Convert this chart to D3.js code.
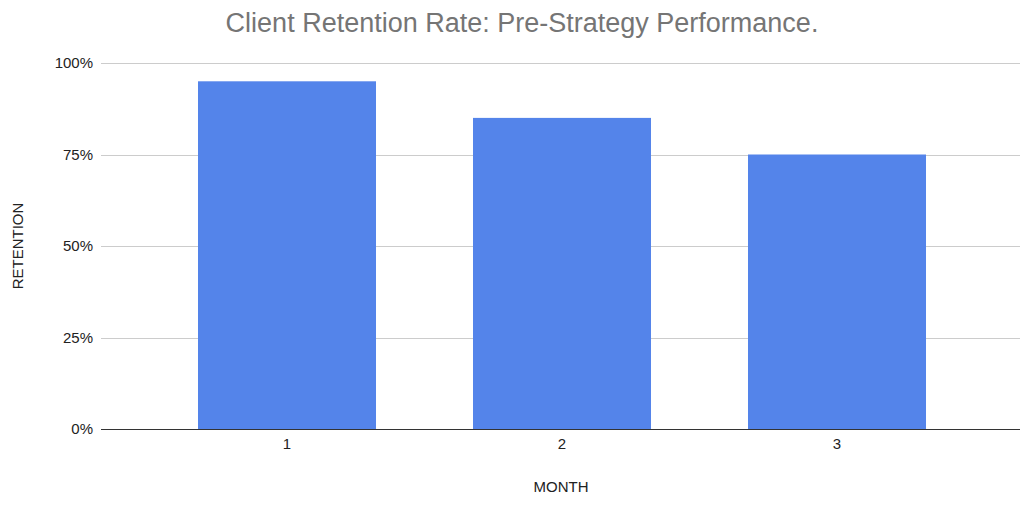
<!DOCTYPE html>
<html>
<head>
<meta charset="utf-8">
<script src="https://cdn.jsdelivr.net/npm/d3@7"></script>
<style>
  html, body { margin: 0; padding: 0; background: #fff; }
  svg { display: block; font-family: "Liberation Sans", Arial, sans-serif; }
</style>
</head>
<body>
<svg id="chart" width="1024" height="508"></svg>
<script>
const months = ["1", "2", "3"];
const retention = [0.95, 0.85, 0.75];
const yTicks = [0, 0.25, 0.5, 0.75, 1];
const yTickLabels = ["0%", "25%", "50%", "75%", "100%"];
const titleText = "Client Retention Rate: Pre-Strategy Performance.";
const xTitle = "MONTH";
const yTitle = "RETENTION";

const svg = d3.select("#chart");
const plotLeft = 101, plotRight = 1020, plotTop = 63, plotBottom = 429;

const x = d3.scaleBand().domain(months).range([149.5, 974.5])
  .paddingInner(0.3527).paddingOuter(0.3527 / 2);
const y = d3.scaleLinear().domain([0, 1]).range([plotBottom, plotTop]);

// gridlines
svg.append("g").selectAll("line").data(yTicks.filter(d => d > 0)).join("line")
  .attr("x1", plotLeft).attr("x2", plotRight)
  .attr("y1", d => Math.round(y(d)) + 0.5).attr("y2", d => Math.round(y(d)) + 0.5)
  .attr("stroke", "#cccccc").attr("stroke-width", 1);

// bars
svg.append("g").selectAll("rect").data(months).join("rect")
  .attr("x", d => x(d))
  .attr("width", x.bandwidth())
  .attr("y", (d, i) => y(retention[i]))
  .attr("height", (d, i) => y(0) - y(retention[i]))
  .attr("fill", "#5484ea");

// baseline
svg.append("line")
  .attr("x1", plotLeft).attr("x2", plotRight)
  .attr("y1", plotBottom + 0.5).attr("y2", plotBottom + 0.5)
  .attr("stroke", "#333333").attr("stroke-width", 1.2);

// y axis labels
const yAxis = d3.axisLeft(y).tickValues(yTicks)
  .tickFormat((d, i) => yTickLabels[i]).tickSize(0).tickPadding(8);
const gy = svg.append("g").attr("transform", `translate(${plotLeft},0)`).call(yAxis);
gy.select(".domain").remove();
gy.selectAll("text").attr("font-size", 15).attr("fill", "#222")
  .attr("font-family", "'Liberation Sans', Arial, sans-serif");

// x axis labels
const xAxis = d3.axisBottom(x).tickSize(0).tickPadding(9);
const gx = svg.append("g").attr("transform", `translate(0,${plotBottom})`).call(xAxis);
gx.select(".domain").remove();
gx.selectAll("text").attr("font-size", 15).attr("fill", "#222")
  .attr("font-family", "'Liberation Sans', Arial, sans-serif");

// title
svg.append("text").attr("x", 522).attr("y", 32)
  .attr("text-anchor", "middle").attr("font-size", 27).attr("fill", "#757575")
  .text(titleText);

// axis titles
svg.append("text").attr("x", 561).attr("y", 492)
  .attr("text-anchor", "middle").attr("font-size", 15).attr("fill", "#222")
  .text(xTitle);
svg.append("text").attr("transform", "translate(23,246) rotate(-90)")
  .attr("text-anchor", "middle").attr("font-size", 15).attr("fill", "#222")
  .text(yTitle);
</script>
</body>
</html>
